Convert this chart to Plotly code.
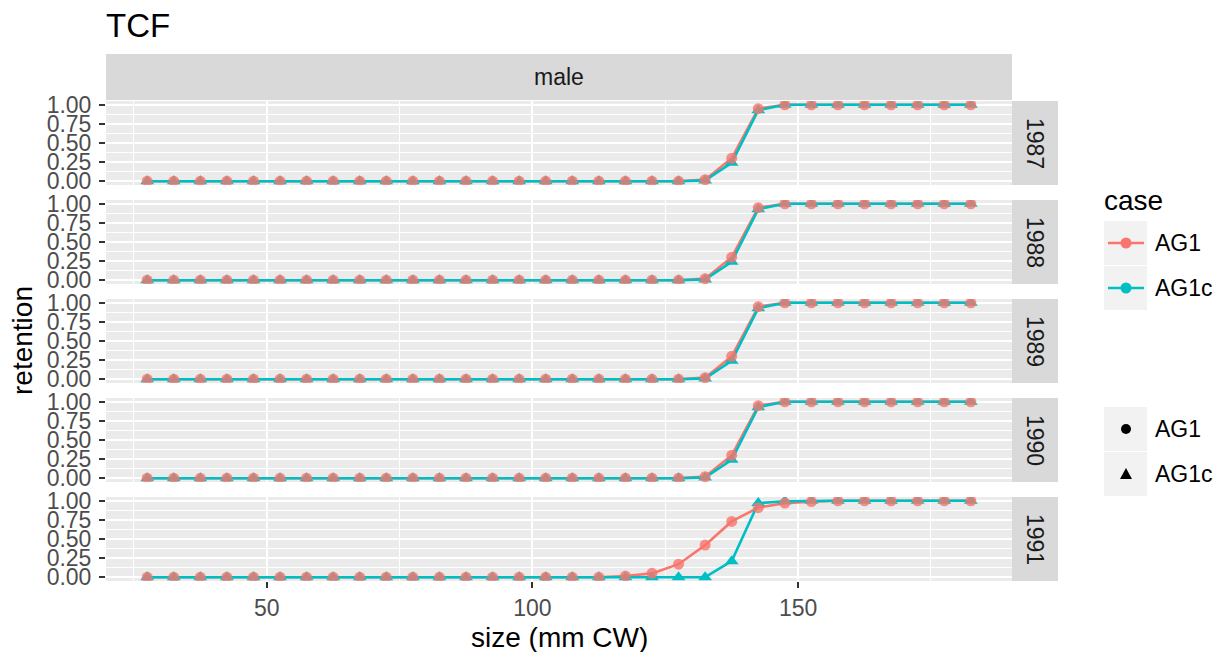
import plotly.graph_objects as go

# The page body has an 8px margin; the figure is sized so that it fits the
# 1225x660 window exactly, and positions below are given in window pixels.
WIN_W, WIN_H = 1225, 660
OFF = 8
W, H = WIN_W - 2 * OFF, WIN_H - 2 * OFF

years = ["1987", "1988", "1989", "1990", "1991"]
sizes = [27.5, 32.5, 37.5, 42.5, 47.5, 52.5, 57.5, 62.5, 67.5, 72.5, 77.5,
         82.5, 87.5, 92.5, 97.5, 102.5, 107.5, 112.5, 117.5, 122.5, 127.5,
         132.5, 137.5, 142.5, 147.5, 152.5, 157.5, 162.5, 167.5, 172.5,
         177.5, 182.5]

ag1_1987 = [0, 0, 0, 0, 0, 0, 0, 0, 0, 0, 0, 0, 0, 0, 0, 0, 0, 0, 0, 0, 0,
            0.02, 0.30, 0.95, 1, 1, 1, 1, 1, 1, 1, 1]
ag1c_1987 = [0, 0, 0, 0, 0, 0, 0, 0, 0, 0, 0, 0, 0, 0, 0, 0, 0, 0, 0, 0, 0,
             0.01, 0.24, 0.93, 1, 1, 1, 1, 1, 1, 1, 1]
ag1_1988 = [0, 0, 0, 0, 0, 0, 0, 0, 0, 0, 0, 0, 0, 0, 0, 0, 0, 0, 0, 0, 0,
            0.02, 0.30, 0.95, 1, 1, 1, 1, 1, 1, 1, 1]
ag1c_1988 = [0, 0, 0, 0, 0, 0, 0, 0, 0, 0, 0, 0, 0, 0, 0, 0, 0, 0, 0, 0, 0,
             0.01, 0.24, 0.93, 1, 1, 1, 1, 1, 1, 1, 1]
ag1_1989 = [0, 0, 0, 0, 0, 0, 0, 0, 0, 0, 0, 0, 0, 0, 0, 0, 0, 0, 0, 0, 0,
            0.02, 0.30, 0.95, 1, 1, 1, 1, 1, 1, 1, 1]
ag1c_1989 = [0, 0, 0, 0, 0, 0, 0, 0, 0, 0, 0, 0, 0, 0, 0, 0, 0, 0, 0, 0, 0,
             0.01, 0.24, 0.93, 1, 1, 1, 1, 1, 1, 1, 1]
ag1_1990 = [0, 0, 0, 0, 0, 0, 0, 0, 0, 0, 0, 0, 0, 0, 0, 0, 0, 0, 0, 0, 0,
            0.02, 0.30, 0.95, 1, 1, 1, 1, 1, 1, 1, 1]
ag1c_1990 = [0, 0, 0, 0, 0, 0, 0, 0, 0, 0, 0, 0, 0, 0, 0, 0, 0, 0, 0, 0, 0,
             0.01, 0.24, 0.93, 1, 1, 1, 1, 1, 1, 1, 1]
ag1_1991 = [0, 0, 0, 0, 0, 0, 0, 0, 0, 0, 0, 0, 0, 0, 0, 0, 0, 0,
            0.015, 0.05, 0.17, 0.42, 0.73, 0.91, 0.97, 0.99, 1, 1, 1, 1, 1, 1]
ag1c_1991 = [0, 0, 0, 0, 0, 0, 0, 0, 0, 0, 0, 0, 0, 0, 0, 0, 0, 0, 0, 0, 0, 0,
             0.21, 0.97, 0.995, 1, 1, 1, 1, 1, 1, 1]

ag1_series = [ag1_1987, ag1_1988, ag1_1989, ag1_1990, ag1_1991]
ag1c_series = [ag1c_1987, ag1c_1988, ag1c_1989, ag1c_1990, ag1c_1991]

case_names = ["AG1", "AG1c"]
ytick_vals = [0, 0.25, 0.5, 0.75, 1]
ytick_text = ["0.00", "0.25", "0.50", "0.75", "1.00"]
xtick_vals = [50, 100, 150]

RED = "#F8766D"
TEAL = "#00BFC4"
FONT = "Liberation Sans, Arial, Helvetica, sans-serif"
TICK_SIZE = 23
STRIP_SIZE = 23
LEG_SIZE = 23
TITLE_SIZE = 28


def px(x):
    return (x - OFF) / W


def py(y):
    return 1 - (y - OFF) / H


# layout geometry (window pixels)
PL, PR = 106, 1012
tops = [101, 200, 299, 398, 497]
PH = 84
STRIP = 46

fig = go.Figure()
layout = dict(
    width=W, height=H,
    autosize=False,
    margin=dict(l=0, r=0, t=0, b=0, pad=0),
    paper_bgcolor="white",
    plot_bgcolor="#EBEBEB",
    showlegend=False,
    font=dict(family=FONT),
)

for i, yr in enumerate(years):
    n = "" if i == 0 else str(i + 1)
    xa, ya = "x" + n, "y" + n
    last = (i == len(years) - 1)
    layout["xaxis" + n] = dict(
        domain=[px(PL), px(PR)], anchor=ya, range=[19.75, 190.25],
        tickvals=xtick_vals, showticklabels=last,
        ticks="outside" if last else "", ticklen=6, tickwidth=2,
        tickcolor="#333333",
        tickfont=dict(size=TICK_SIZE, color="#4D4D4D", family=FONT),
        showgrid=True, gridcolor="white", gridwidth=2,
        minor=dict(tickvals=[25, 75, 125, 175], showgrid=True,
                   gridcolor="white", gridwidth=1, ticks=""),
        zeroline=False, showline=False, automargin=False,
        **({} if i == 0 else {"matches": "x"}),
    )
    layout["yaxis" + n] = dict(
        domain=[py(tops[i] + PH), py(tops[i])], anchor=xa,
        range=[-0.05, 1.05],
        tickvals=ytick_vals, ticktext=ytick_text,
        ticks="outside", ticklen=6, tickwidth=2, tickcolor="#333333",
        tickfont=dict(size=TICK_SIZE, color="#4D4D4D", family=FONT),
        ticklabelstandoff=3,
        showgrid=True, gridcolor="white", gridwidth=2,
        minor=dict(tickvals=[0.125, 0.375, 0.625, 0.875], showgrid=True,
                   gridcolor="white", gridwidth=1, ticks=""),
        zeroline=False, showline=False, automargin=False,
    )
    # lines
    fig.add_trace(go.Scatter(x=sizes, y=ag1_series[i], mode="lines",
                             line=dict(color=RED, width=2.6),
                             xaxis=xa, yaxis=ya, name=case_names[0]))
    fig.add_trace(go.Scatter(x=sizes, y=ag1c_series[i], mode="lines",
                             line=dict(color=TEAL, width=2.6),
                             xaxis=xa, yaxis=ya, name=case_names[1]))
    # points
    fig.add_trace(go.Scatter(x=sizes, y=ag1c_series[i], mode="markers",
                             marker=dict(symbol="triangle-up", size=12,
                                         color=TEAL, line=dict(width=0)),
                             xaxis=xa, yaxis=ya, name=case_names[1]))
    fig.add_trace(go.Scatter(x=sizes, y=ag1_series[i], mode="markers",
                             marker=dict(symbol="circle", size=11,
                                         color=RED, opacity=0.8,
                                         line=dict(width=0)),
                             xaxis=xa, yaxis=ya, name=case_names[0]))

shapes = []
annotations = []


def label(text, x, y, size, color="black", xanchor="center", yanchor="middle", angle=0):
    annotations.append(dict(text=text, x=px(x), y=py(y), xref="paper", yref="paper",
                            xanchor=xanchor, yanchor=yanchor, showarrow=False,
                            textangle=angle,
                            font=dict(size=size, color=color, family=FONT)))


# top strip
shapes.append(dict(type="rect", xref="paper", yref="paper",
                   x0=px(PL), x1=px(PR), y0=py(tops[0] - 1), y1=py(tops[0] - 1 - STRIP),
                   fillcolor="#D9D9D9", line=dict(width=0), layer="below"))
label("male", (PL + PR) / 2, tops[0] - 1 - STRIP / 2, STRIP_SIZE, "#1A1A1A")

# right strips
for i, yr in enumerate(years):
    shapes.append(dict(type="rect", xref="paper", yref="paper",
                       x0=px(PR), x1=px(PR + STRIP), y0=py(tops[i] + PH), y1=py(tops[i]),
                       fillcolor="#D9D9D9", line=dict(width=0), layer="below"))
    label(yr, PR + STRIP / 2, tops[i] + PH / 2, STRIP_SIZE, "#1A1A1A", angle=90)

# title and axis titles
label("TCF", 104, 25, 33, xanchor="left")
label("size (mm CW)", (PL + PR) / 2, 637, TITLE_SIZE)
label("retention", 23, (tops[0] + tops[-1] + PH) / 2, TITLE_SIZE, angle=-90)

# legend: colour
label("case", 1102, 200, TITLE_SIZE, xanchor="left")
KX0, KX1 = 1104, 1147
for j, (nm, col) in enumerate(zip(case_names, [RED, TEAL])):
    y0 = 221 + j * 45
    yc = y0 + 22
    shapes.append(dict(type="rect", xref="paper", yref="paper",
                       x0=px(KX0), x1=px(KX1), y0=py(y0 + 44), y1=py(y0),
                       fillcolor="#F2F2F2", line=dict(width=0)))
    shapes.append(dict(type="line", xref="paper", yref="paper",
                       x0=px(KX0 + 4), x1=px(KX1 - 3), y0=py(yc), y1=py(yc),
                       line=dict(color=col, width=2.6)))
    shapes.append(dict(type="circle", xref="paper", yref="paper",
                       x0=px(1126 - 5.5), x1=px(1126 + 5.5), y0=py(yc + 5.5), y1=py(yc - 5.5),
                       fillcolor=col, line=dict(width=0)))
    label(nm, 1153, yc, LEG_SIZE, xanchor="left")

# legend: shape
for j, nm in enumerate(case_names):
    y0 = 407 + j * 45
    yc = y0 + 22
    shapes.append(dict(type="rect", xref="paper", yref="paper",
                       x0=px(KX0), x1=px(KX1), y0=py(y0 + 44), y1=py(y0),
                       fillcolor="#F2F2F2", line=dict(width=0)))
    if j == 0:
        shapes.append(dict(type="circle", xref="paper", yref="paper",
                           x0=px(1126 - 5), x1=px(1126 + 5), y0=py(yc + 5), y1=py(yc - 5),
                           fillcolor="black", line=dict(width=0)))
    else:
        path = "M {:.5f} {:.5f} L {:.5f} {:.5f} L {:.5f} {:.5f} Z".format(
            px(1126), py(yc - 6), px(1120), py(yc + 5), px(1132), py(yc + 5))
        shapes.append(dict(type="path", xref="paper", yref="paper", path=path,
                           fillcolor="black", line=dict(width=0)))
    label(nm, 1153, yc, LEG_SIZE, xanchor="left")

layout["shapes"] = shapes
layout["annotations"] = annotations
fig.update_layout(**layout)
fig.write_html("out.html")
